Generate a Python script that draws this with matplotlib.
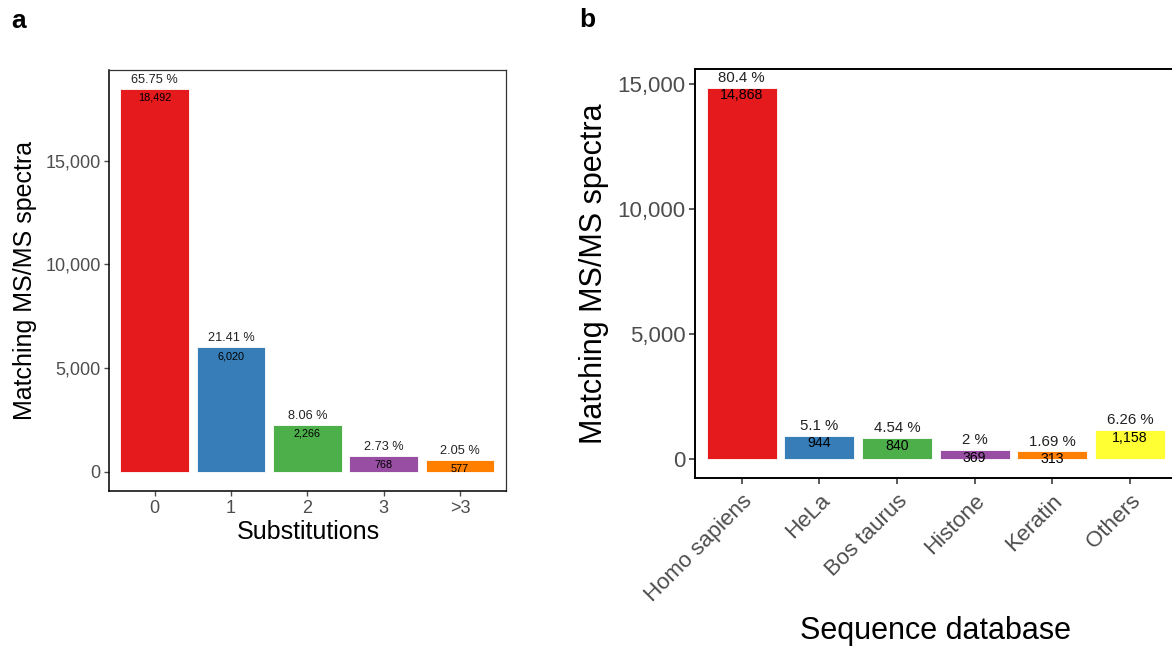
import numpy as np
from matplotlib import pyplot as plt
from matplotlib.ticker import FuncFormatter

plt.rcParams['font.family'] = ['Liberation Sans', 'DejaVu Sans']

SET1 = ['#E41A1C', '#377EB8', '#4DAF4A', '#984EA3', '#FF7F00', '#FFFF33']

# panel a
substitutions = ['0', '1', '2', '3', '>3']
subst_counts = [18492, 6020, 2266, 768, 577]
subst_pct = ['65.75', '21.41', '8.06', '2.73', '2.05']

# panel b
databases = ['Homo sapiens', 'HeLa', 'Bos taurus', 'Histone', 'Keratin', 'Others']
db_counts = [14868, 944, 840, 369, 313, 1158]
db_pct = ['80.4', '5.1', '4.54', '2', '1.69', '6.26']

comma = FuncFormatter(lambda v, p: f'{int(v):,}')


def draw_panel(ax, cats, counts, pct, pct_size, cnt_size, cnt_off):
    x = np.arange(len(cats))
    ax.bar(x, counts, width=0.9, color=SET1[:len(cats)], edgecolor='white', linewidth=0.6)
    for xi, c, p in zip(x, counts, pct):
        ax.annotate(f'{p} %', (xi, c), xytext=(0, 2), textcoords='offset points',
                    ha='center', va='bottom', fontsize=pct_size, color='#222222')
        ax.annotate(f'{c:,}', (xi, c), xytext=(0, cnt_off), textcoords='offset points',
                    ha='center', va='top', fontsize=cnt_size, color='black')
    ax.set_xlim(-0.6, len(cats) - 0.4)
    ax.set_ylim(-0.05 * max(counts), 1.05 * max(counts))
    ax.set_xticks(x)
    ax.set_yticks([0, 5000, 10000, 15000])
    ax.yaxis.set_major_formatter(comma)


fig = plt.figure(figsize=(11.72, 6.46), dpi=100)

# ---- a ----
ax1 = fig.add_axes([109 / 1172, 1 - 490.7 / 646, 396.7 / 1172, 421.2 / 646])
draw_panel(ax1, substitutions, subst_counts, subst_pct, 9.2, 7.8, -3)
ax1.set_xticklabels(substitutions)
ax1.tick_params(axis='both', labelsize=13, colors='#4D4D4D', length=3.5, width=1)
ax1.tick_params(axis='x', pad=3.5)
ax1.tick_params(axis='y', pad=2.5)
for s in ['left', 'bottom']:
    ax1.spines[s].set_linewidth(1.1)
    ax1.spines[s].set_color('black')
for s in ['top', 'right']:
    ax1.spines[s].set_linewidth(0.9)
    ax1.spines[s].set_color('#333333')
ax1.set_xlabel('Substitutions', fontsize=18)
ax1.set_ylabel('Matching MS/MS spectra', fontsize=18)
ax1.xaxis.set_label_coords(0.502, -0.07)
ax1.yaxis.set_label_coords(-0.1815, 0.5)

# ---- b ----
ax2 = fig.add_axes([695 / 1172, 1 - 477.7 / 646, 481.6 / 1172, 408.7 / 646])
draw_panel(ax2, databases, db_counts, db_pct, 10.8, 10.2, -0.5)
ax2.set_xticklabels(databases, rotation=45, ha='right', va='top', rotation_mode='anchor')
ax2.tick_params(axis='both', labelsize=16, colors='#4D4D4D', length=4.5, width=1.3)
ax2.tick_params(axis='x', pad=4.5)
ax2.tick_params(axis='y', pad=2.5)
for s in ['left', 'bottom', 'top', 'right']:
    ax2.spines[s].set_linewidth(1.4)
    ax2.spines[s].set_color('black')
ax2.set_xlabel('Sequence database', fontsize=22)
ax2.set_ylabel('Matching MS/MS spectra', fontsize=22)
ax2.xaxis.set_label_coords(0.5, -0.338)
ax2.yaxis.set_label_coords(-0.1786, 0.5)

fig.text(11 / 1172, 1 - 28 / 646, 'a', fontsize=19, fontweight='bold', va='baseline')
fig.text(579 / 1172, 1 - 27 / 646, 'b', fontsize=19, fontweight='bold', va='baseline')

fig.savefig('out.png', dpi=100)
